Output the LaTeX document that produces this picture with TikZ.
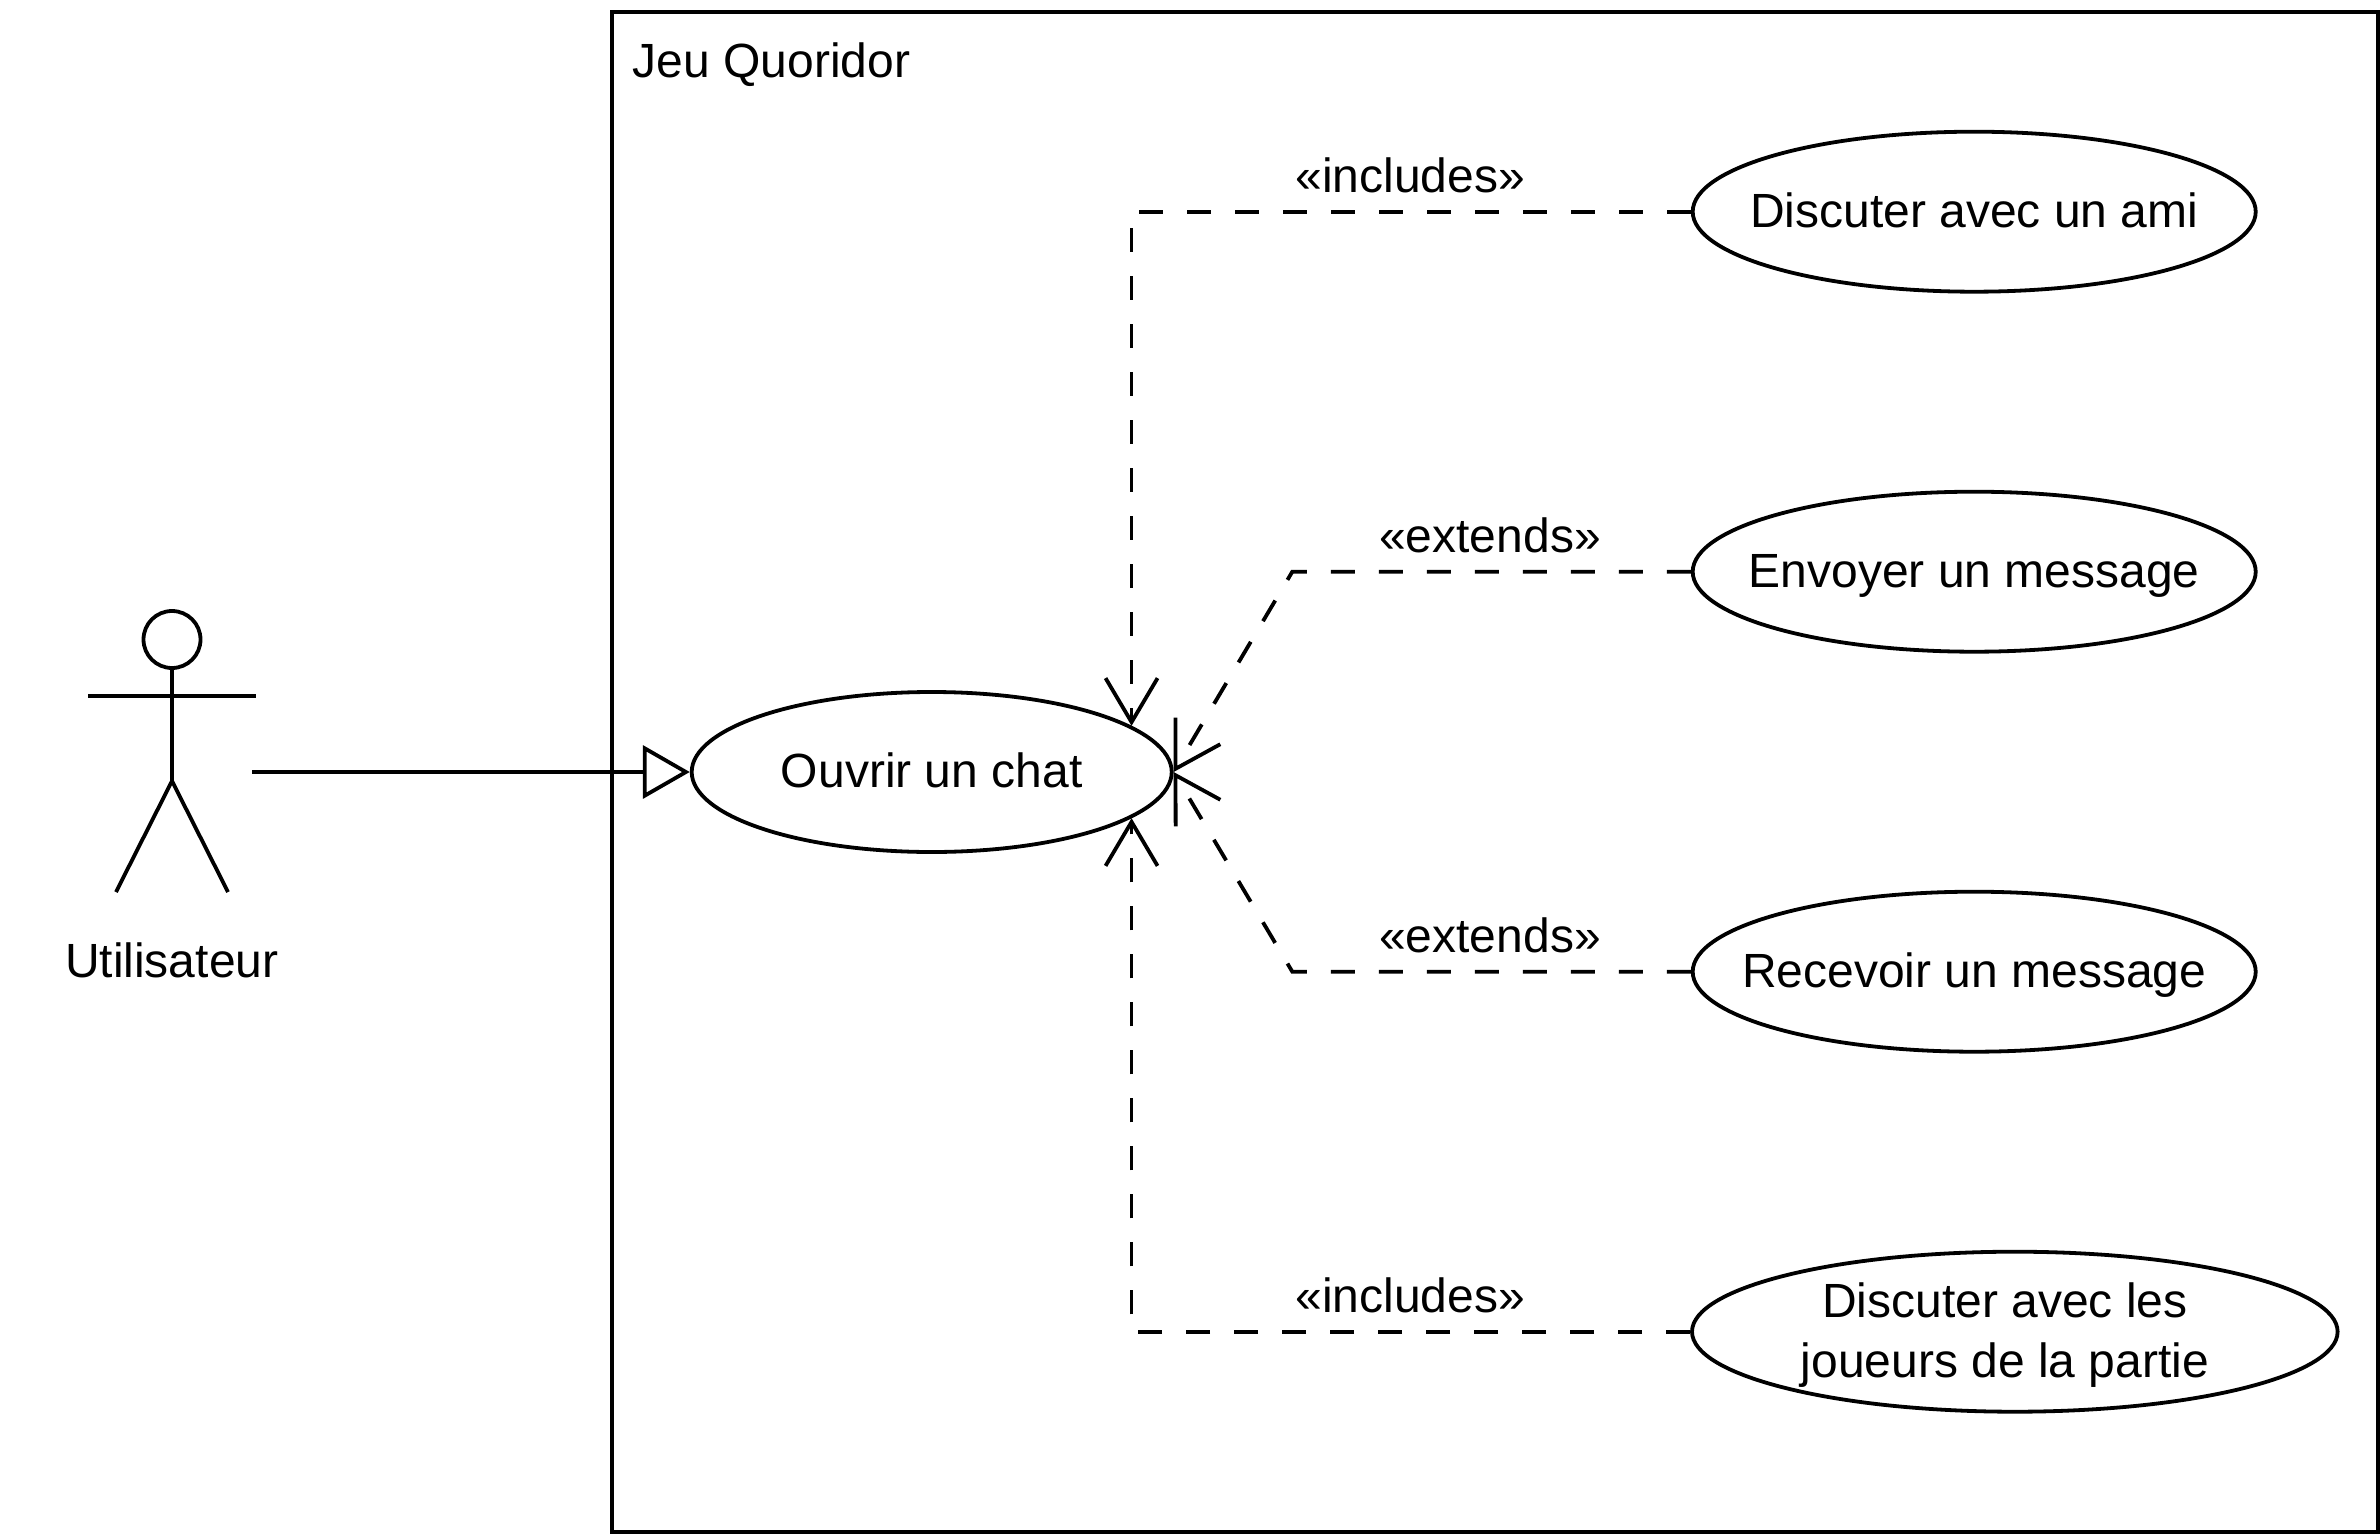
\documentclass[tikz,border=0pt]{standalone}
\usepackage{fontspec}
\setmainfont{Liberation Sans}
\usetikzlibrary{arrows.meta,shapes.geometric}
\begin{document}
\begin{tikzpicture}[x=0.5pt,y=-0.5pt,line width=1.9pt,
	every node/.style={font=\fontsize{24}{29.8}\selectfont,inner sep=0},
	usecase/.style={ellipse,draw,minimum height=80pt,minimum width=#1,inner xsep=-60pt,text height=18pt,text depth=2.6pt},
	stereo/.style={anchor=base},
	dep/.style={dash pattern=on 12pt off 12pt,-{Straight Barb[length=22pt,width=26pt]}},
	gen/.style={-{Triangle[open,length=23.5pt,width=26.5pt]}}]
\useasboundingbox (0,0) rectangle (2380,1540);
\node[rectangle,draw,minimum width=883pt,minimum height=760pt] (system) at (1494.6,771.7) {};
\node[anchor=base west] (systemlabel) at (631,77.3) {Jeu Quoridor};
% actor
\node[circle,draw,minimum size=28.5pt] (head) at (172,639.5) {};
\coordinate (neck) at (172,696);
\coordinate (hip) at (172,781);
\draw (head) -- (hip);
\draw (88,696) -- (neck) -- (256,696);
\draw (116,892) -- (hip) -- (228,892);
\node[anchor=base] (actorlabel) at (171.7,977.3) {Utilisateur};
% use cases
\node[usecase=240pt] (chat) at (931.7,772) {Ouvrir un chat};
\node[usecase=281.5pt] (ami) at (1974.2,211.7) {Discuter avec un ami};
\node[usecase=281.5pt] (envoyer) at (1974.2,571.7) {Envoyer un message};
\node[usecase=281.5pt] (recevoir) at (1974.2,971.7) {Recevoir un message};
\node[usecase=322.8pt] (joueurs) at (2014.8,1331.7) {};
\node[anchor=base,align=center] (joueurstext) at (2005,1377.3) {Discuter avec les\\joueurs de la partie};
% connectors
\coordinate (actorend) at (252,772);
\coordinate (bendenvoyer) at (1292.3,571.7);
\coordinate (bendrecevoir) at (1292.3,971.7);
\draw[gen] (actorend) -- (chat);
\draw[dep] (ami) -| (chat.13.25);
\draw[dep] (envoyer) -- (bendenvoyer) -- (chat.east);
\draw[dep] (recevoir) -- (bendrecevoir) -- (chat.east);
\draw[dep] (joueurs) -| (chat.-13.25);
\node[stereo] (inc1) at (1410.3,192.7) {«includes»};
\node[stereo] (ext1) at (1490,552.7) {«extends»};
\node[stereo] (ext2) at (1490,952.7) {«extends»};
\node[stereo] (inc2) at (1410.3,1312.7) {«includes»};
\end{tikzpicture}
\end{document}
